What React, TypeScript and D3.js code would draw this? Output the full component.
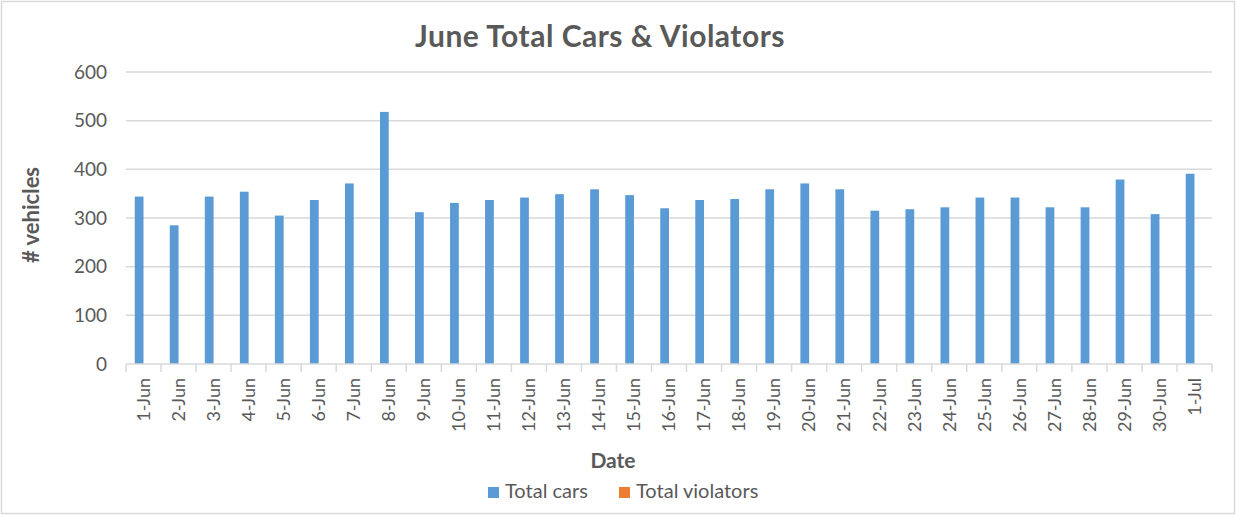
import React, { useEffect, useRef } from "react";
import * as d3 from "d3";

const dates = [
  "1-Jun", "2-Jun", "3-Jun", "4-Jun", "5-Jun", "6-Jun", "7-Jun", "8-Jun", "9-Jun", "10-Jun",
  "11-Jun", "12-Jun", "13-Jun", "14-Jun", "15-Jun", "16-Jun", "17-Jun", "18-Jun", "19-Jun", "20-Jun",
  "21-Jun", "22-Jun", "23-Jun", "24-Jun", "25-Jun", "26-Jun", "27-Jun", "28-Jun", "29-Jun", "30-Jun",
  "1-Jul",
];
const totalCars = [
  344, 285, 344, 354, 305, 337, 371, 518, 312, 331,
  337, 342, 349, 359, 347, 320, 337, 339, 359, 371,
  359, 315, 318, 322, 342, 342, 322, 322, 379, 308,
  391,
];
const totalViolators = [
  0, 0, 0, 0, 0, 0, 0, 0, 0, 0,
  0, 0, 0, 0, 0, 0, 0, 0, 0, 0,
  0, 0, 0, 0, 0, 0, 0, 0, 0, 0,
  0,
];
const seriesNames = ["Total cars", "Total violators"];
const seriesColors = ["#5b9bd5", "#ed7d31"];
const yTicks = [0, 100, 200, 300, 400, 500, 600];

const App = () => {
  const svgRef = useRef<SVGSVGElement>(null);

  useEffect(() => {
    const width = 1237;
    const height = 515;
    const left = 126;
    const right = 1212;
    const top = 72;
    const bottom = 364;
    const font = "Lato, 'Open Sans', sans-serif";
    const textColor = "#595959";
    const gridColor = "#d9d9d9";

    const svg = d3.select(svgRef.current);
    svg.selectAll("*").remove();
    svg.attr("width", width).attr("height", height);

    svg.append("rect")
      .attr("x", 1.5).attr("y", 1.5)
      .attr("width", width - 4).attr("height", height - 3)
      .attr("fill", "white")
      .attr("stroke", gridColor)
      .attr("stroke-width", 1.5);

    const x = d3.scaleBand().domain(dates).range([left, right]).padding(0);
    const bw = x.bandwidth();
    const xs = d3.scaleBand().domain(seriesNames).range([bw * 0.25, bw * 0.75]).padding(0);
    const y = d3.scaleLinear().domain([0, 600]).range([bottom, top]);

    // gridlines
    svg.append("g")
      .selectAll("line")
      .data(yTicks.filter(d => d > 0))
      .join("line")
      .attr("x1", left).attr("x2", right)
      .attr("y1", d => y(d)).attr("y2", d => y(d))
      .attr("stroke", gridColor)
      .attr("stroke-width", 1.5);

    // y labels
    svg.append("g")
      .selectAll("text")
      .data(yTicks)
      .join("text")
      .attr("x", 107)
      .attr("y", d => y(d))
      .attr("dy", "0.35em")
      .attr("text-anchor", "end")
      .attr("font-family", font)
      .attr("font-size", 19)
      .attr("fill", textColor)
      .text(d => d);

    // bars
    const series = [totalCars, totalViolators];
    series.forEach((vals, si) => {
      svg.append("g")
        .selectAll("rect")
        .data(vals)
        .join("rect")
        .attr("x", (d, i) => (x(dates[i]) ?? 0) + (xs(seriesNames[si]) ?? 0))
        .attr("width", xs.bandwidth())
        .attr("y", d => y(d))
        .attr("height", d => bottom - y(d))
        .attr("fill", seriesColors[si]);
    });

    // x axis line and ticks
    svg.append("line")
      .attr("x1", left).attr("x2", right)
      .attr("y1", bottom).attr("y2", bottom)
      .attr("stroke", gridColor)
      .attr("stroke-width", 1.5);
    const tickPos = dates.map(d => x(d) ?? 0).concat([right]);
    svg.append("g")
      .selectAll("line")
      .data(tickPos)
      .join("line")
      .attr("x1", d => d).attr("x2", d => d)
      .attr("y1", bottom).attr("y2", bottom + 8)
      .attr("stroke", gridColor)
      .attr("stroke-width", 1.5);

    // x labels
    svg.append("g")
      .selectAll("text")
      .data(dates)
      .join("text")
      .attr("transform", d => `translate(${(x(d) ?? 0) + bw / 2},378) rotate(-90)`)
      .attr("dy", "0.35em")
      .attr("text-anchor", "end")
      .attr("font-family", font)
      .attr("font-size", 18)
      .attr("fill", textColor)
      .text(d => d);

    // title
    svg.append("text")
      .attr("x", 600).attr("y", 47)
      .attr("text-anchor", "middle")
      .attr("font-family", font)
      .attr("font-weight", "bold")
      .attr("font-size", 30)
      .attr("letter-spacing", 0.5)
      .attr("fill", textColor)
      .text("June Total Cars & Violators");

    // axis titles
    svg.append("text")
      .attr("transform", "translate(39,215) rotate(-90)")
      .attr("text-anchor", "middle")
      .attr("font-family", font)
      .attr("font-weight", "bold")
      .attr("font-size", 22)
      .attr("fill", textColor)
      .text("# vehicles");

    svg.append("text")
      .attr("x", 613).attr("y", 468)
      .attr("text-anchor", "middle")
      .attr("font-family", font)
      .attr("font-weight", "bold")
      .attr("font-size", 21)
      .attr("fill", textColor)
      .text("Date");

    // legend
    const legendX = [488, 619];
    seriesNames.forEach((name, i) => {
      const g = svg.append("g").attr("transform", `translate(${legendX[i]},487)`);
      g.append("rect").attr("width", 11).attr("height", 11).attr("fill", seriesColors[i]);
      g.append("text")
        .attr("x", 17).attr("y", 11)
        .attr("font-family", font)
        .attr("font-size", 20)
        .attr("fill", textColor)
        .text(name);
    });
  }, []);

  return <svg ref={svgRef} style={{ position: "absolute", left: 0, top: 0 }}></svg>;
};

export default App;
